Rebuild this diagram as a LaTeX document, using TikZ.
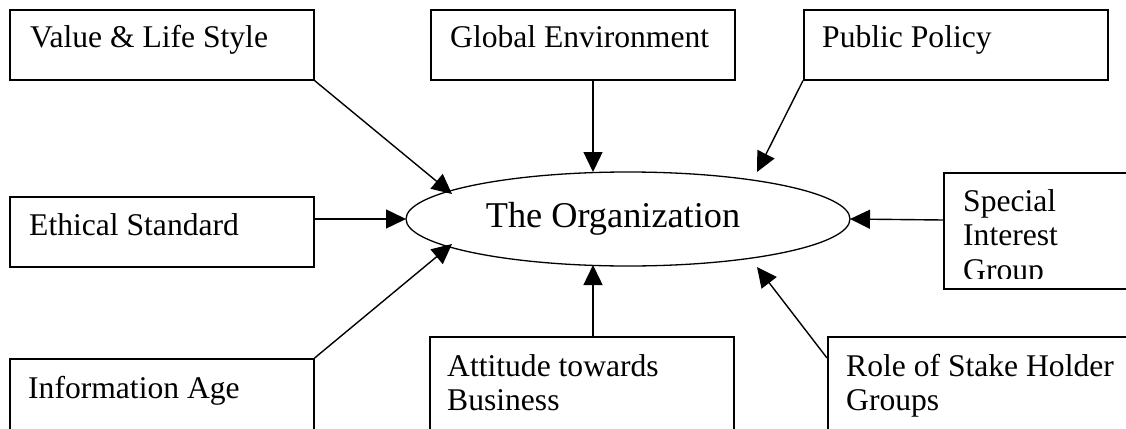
\documentclass[tikz,border=0pt]{standalone}
\usepackage{fontspec}
\setmainfont{Liberation Serif}
\usetikzlibrary{shapes.geometric,arrows.meta}
\begin{document}
\begin{tikzpicture}[x=1pt,y=-1pt,
  box/.style={draw, line width=1.6pt, rectangle, inner sep=0pt, anchor=north west,
              minimum width=304pt, minimum height=70pt},
  tallbox/.style={box, minimum height=120pt},
  lbl/.style={anchor=base west, inner sep=0pt, font=\fontsize{31.6}{34.5}\selectfont},
  conn/.style={line width=1.4pt, -{Triangle[length=20pt,width=19pt]}}]
\useasboundingbox (0,0) rectangle (1126,428);
\clip (0,0) rectangle (1126,428);

% central ellipse
\node[draw, ellipse, line width=1.3pt, minimum width=444pt, minimum height=94pt, inner sep=0pt] (org) at (628,219) {};
\node[anchor=base, inner sep=0pt, font=\fontsize{36.3}{40}\selectfont] (orgtext) at (613,227) {The Organization};

% boxes
\node[box] (val)  at (9,9) {};
\node[box] (glob) at (430,9) {};
\node[box] (pub)  at (803,9) {};
\node[box] (eth)  at (9,196) {};
\node[box, minimum height=116pt] (spec) at (943,172) {};
\node[tallbox] (info) at (9,358) {};
\node[tallbox] (att)  at (429,336) {};
\node[tallbox] (role) at (827,336) {};

% labels
\node[lbl] (tval)  at (30,48) {Value \& Life Style};
\node[lbl] (tglob) at (450,48) {Global Environment};
\node[lbl] (tpub)  at (822,48) {Public Policy};
\node[lbl] (teth)  at (29,235) {Ethical Standard};
\node[lbl] (tinfo) at (28,398) {Information Age};
\node[lbl] (tatt)  at (447,376) {\begin{tabular}[t]{@{}l@{}}Attitude towards\\Business\end{tabular}};
\node[lbl] (trole) at (846,376) {\begin{tabular}[t]{@{}l@{}}Role of Stake Holder\\Groups\end{tabular}};
\begin{scope}
  \clip (943,172) rectangle (1126,278);
  \node[lbl] (tspec) at (963,211) {\begin{tabular}[t]{@{}l@{}}Special\\Interest\\Group\end{tabular}};
\end{scope}

% connector end points
\coordinate (aval)  at (452,194);
\coordinate (aglob) at (593,172);
\coordinate (apub)  at (757,172);
\coordinate (aeth)  at (406,219);
\coordinate (aspec) at (850,219);
\coordinate (ainfo) at (452,244);
\coordinate (aatt)  at (593,265);
\coordinate (arole) at (757,267);

% connectors
\draw[conn] (val.south east) -- (aval);
\draw[conn] ([xshift=163pt]glob.south west) -- (aglob);
\draw[conn] (pub.south west) -- (apub);
\draw[conn] ([yshift=-23pt]eth.north east) -- (aeth);
\draw[conn] ([yshift=-48pt]spec.north west) -- (aspec);
\draw[conn] (info.north west -| info.east) -- (ainfo);
\draw[conn] ([xshift=164pt]att.north west) -- (aatt);
\draw[conn] ([yshift=-22pt]role.north west) -- (arole);
\end{tikzpicture}
\end{document}
